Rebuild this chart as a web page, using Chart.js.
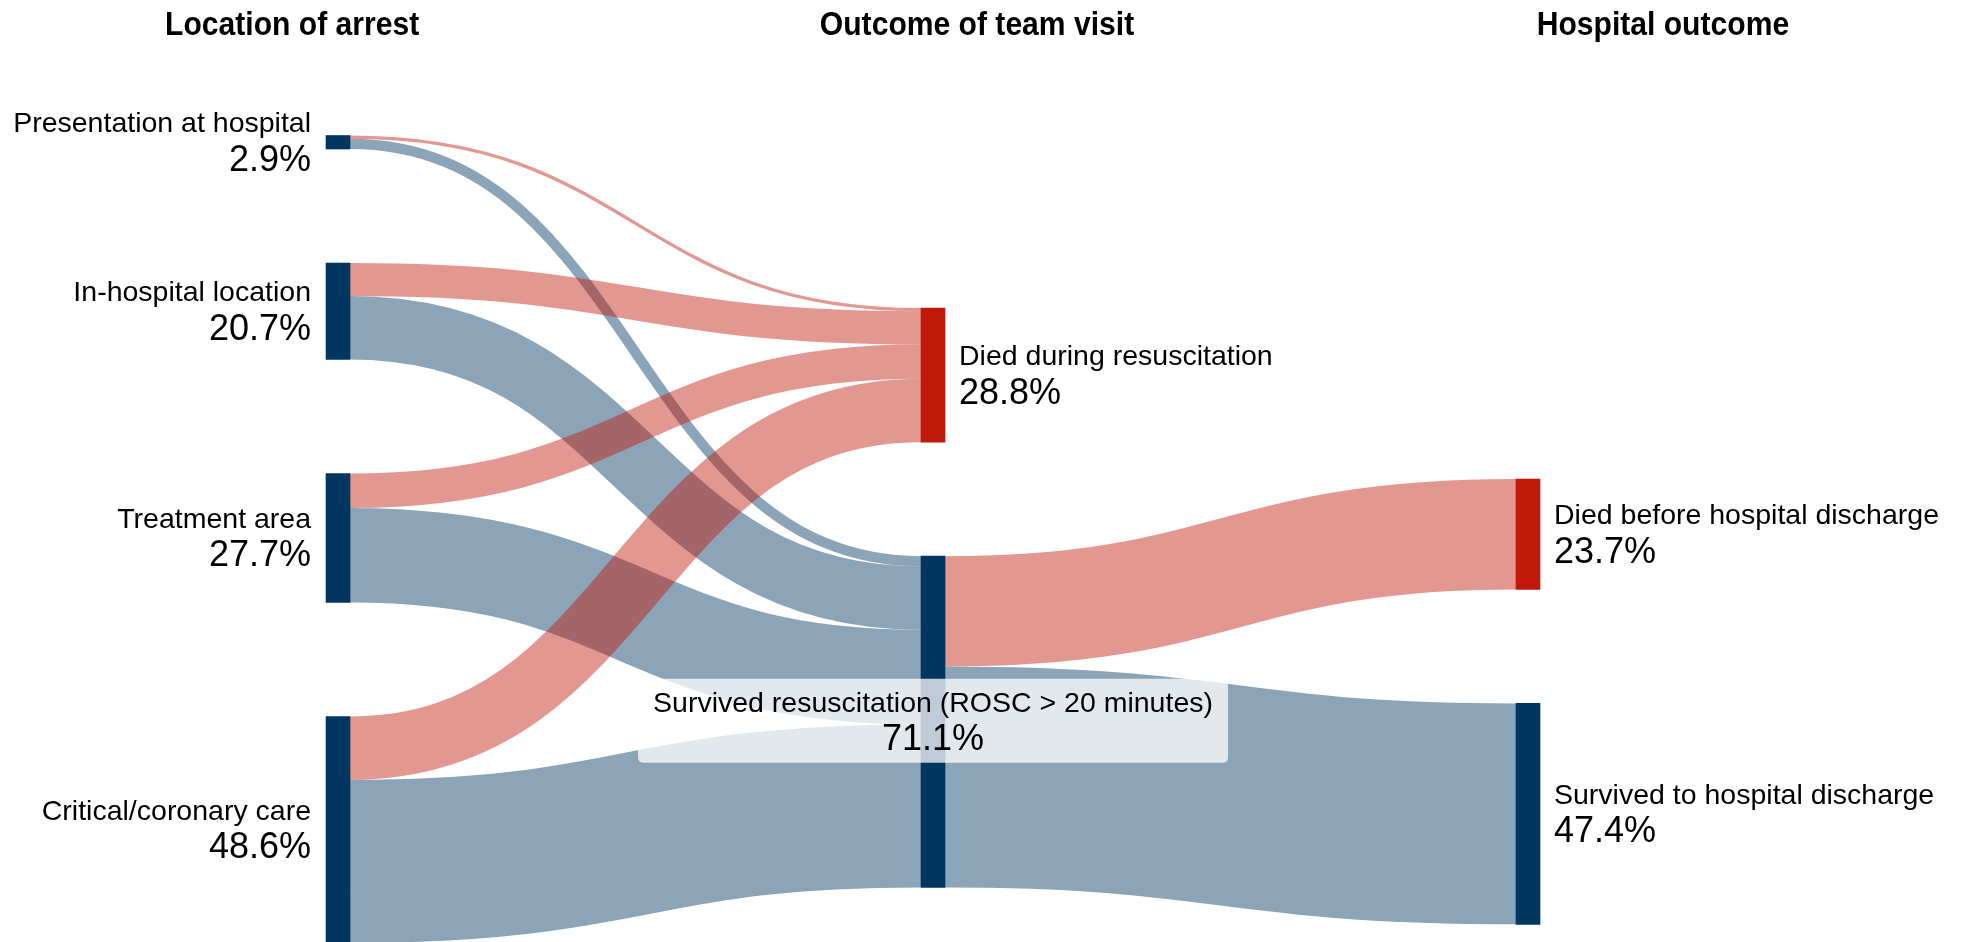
<!DOCTYPE html>
<html>
<head>
<meta charset="utf-8">
<title>Location of arrest and outcomes</title>
<script src="https://cdn.jsdelivr.net/npm/chart.js@4.4.1/dist/chart.umd.min.js"></script>
<style>
  html, body { margin: 0; padding: 0; background: #fff; }
  #wrap { width: 1967px; height: 942px; }
</style>
</head>
<body>
<div id="wrap"><canvas id="sankey" width="1967" height="942"></canvas></div>
<script>
// column headings
const columnTitles = ["Location of arrest", "Outcome of team visit", "Hospital outcome"];

// left column, share of all arrests (%)
const arrestLocations = ["Presentation at hospital", "In-hospital location", "Treatment area", "Critical/coronary care"];
const arrestShare = [2.9, 20.7, 27.7, 48.6];

// middle column
const visitOutcomes = ["Died during resuscitation", "Survived resuscitation (ROSC > 20 minutes)"];
const visitShare = [28.8, 71.1];

// right column
const hospitalOutcomes = ["Died before hospital discharge", "Survived to hospital discharge"];
const hospitalShare = [23.7, 47.4];

// flows from each location to the team visit outcome
const diedDuringFrom = [0.7, 7.1, 7.4, 13.6];
const survivedFrom = [2.2, 13.6, 20.3, 35.0];
// flows out of "survived resuscitation"
const afterSurvival = [23.7, 47.4];

// ---- layout / styling ----
const NAVY = "#00365f";
const RED = "#c0190c";
const PX_PER_PCT = 4.66;
const Y_MAX = 942 / PX_PER_PCT;
const NODE_GAP = 24.46;
const colStart = [29.08, 66.09, 102.79];
const FONT = '"Liberation Sans", Arial, sans-serif';

function rgba(hex, a) {
  const n = parseInt(hex.slice(1), 16);
  return `rgba(${n >> 16},${(n >> 8) & 255},${n & 255},${a})`;
}

function buildColumn(col, names, values, colors, sides) {
  let y = colStart[col];
  return names.map((name, i) => {
    const node = { col, name, value: values[i], y0: y, y1: y + values[i],
      color: colors[i], side: sides[i], outY: y, inY: y };
    y += values[i] + NODE_GAP;
    return node;
  });
}

const leftNodes = buildColumn(0, arrestLocations, arrestShare,
  [NAVY, NAVY, NAVY, NAVY], ["left", "left", "left", "left"]);
const midNodes = buildColumn(1, visitOutcomes, visitShare, [RED, NAVY], ["right", "center"]);
const rightNodes = buildColumn(2, hospitalOutcomes, hospitalShare, [RED, NAVY], ["right", "right"]);
const nodes = [...leftNodes, ...midNodes, ...rightNodes];

const links = [];
function addLink(source, target, value) {
  links.push({ source, target, value, color: target.color,
    sy: source.outY + value / 2, ty: target.inY + value / 2 });
  source.outY += value;
  target.inY += value;
}
leftNodes.forEach((n, i) => {
  addLink(n, midNodes[0], diedDuringFrom[i]);
  addLink(n, midNodes[1], survivedFrom[i]);
});
rightNodes.forEach((n, i) => addLink(midNodes[1], n, afterSurvival[i]));

// links go under the nodes, drawn as thick curves; blue first, red on top
const linkPlugin = {
  id: "sankeyLinks",
  beforeDatasetsDraw(chart) {
    const { ctx } = chart;
    const yS = chart.scales.y;
    const bars = chart.getDatasetMeta(0).data;
    const ordered = [...links.filter(l => l.color === NAVY), ...links.filter(l => l.color === RED)];
    ctx.save();
    ctx.lineCap = "butt";
    ordered.forEach(l => {
      const sb = bars[nodes.indexOf(l.source)];
      const tb = bars[nodes.indexOf(l.target)];
      const x0 = sb.x + sb.width / 2;
      const x1 = tb.x - tb.width / 2;
      const xm = (x0 + x1) / 2;
      const y0 = yS.getPixelForValue(l.sy);
      const y1 = yS.getPixelForValue(l.ty);
      const w = Math.abs(yS.getPixelForValue(l.value) - yS.getPixelForValue(0));
      ctx.beginPath();
      ctx.moveTo(x0, y0);
      ctx.bezierCurveTo(xm, y0, xm, y1, x1, y1);
      ctx.strokeStyle = rgba(l.color, 0.45);
      ctx.lineWidth = Math.max(1, w);
      ctx.stroke();
    });
    ctx.restore();
  }
};

function roundRect(ctx, x, y, w, h, r) {
  ctx.beginPath();
  ctx.moveTo(x + r, y);
  ctx.arcTo(x + w, y, x + w, y + h, r);
  ctx.arcTo(x + w, y + h, x, y + h, r);
  ctx.arcTo(x, y + h, x, y, r);
  ctx.arcTo(x, y, x + w, y, r);
  ctx.closePath();
}

const labelPlugin = {
  id: "sankeyLabels",
  afterDatasetsDraw(chart) {
    const { ctx, chartArea } = chart;
    const yS = chart.scales.y;
    const bars = chart.getDatasetMeta(0).data;
    ctx.save();
    ctx.fillStyle = "#000";
    ctx.textBaseline = "alphabetic";
    nodes.forEach((n, i) => {
      const b = bars[i];
      const cy = yS.getPixelForValue((n.y0 + n.y1) / 2);
      const pct = n.value.toFixed(1) + "%";
      let tx;
      if (n.side === "left") {
        ctx.textAlign = "right";
        tx = b.x - b.width / 2 - 15;
      } else if (n.side === "right") {
        ctx.textAlign = "left";
        tx = b.x + b.width / 2 + 14;
      } else {
        ctx.textAlign = "center";
        tx = b.x;
        ctx.font = "28.5px " + FONT;
        const w = ctx.measureText(n.name).width + 30;
        ctx.fillStyle = "rgba(255,255,255,0.75)";
        roundRect(ctx, tx - w / 2, cy - 43, w, 84, 5);
        ctx.fill();
        ctx.fillStyle = "#000";
      }
      ctx.font = "28.5px " + FONT;
      ctx.fillText(n.name, tx, cy - 10);
      ctx.font = "36px " + FONT;
      ctx.fillText(pct, tx, cy + 28.5);
    });

    // column headings
    const titleX = [0.1485, 0.4967, 0.8454];
    ctx.font = "bold 34px " + FONT;
    ctx.textAlign = "center";
    columnTitles.forEach((t, i) => {
      ctx.save();
      ctx.translate(chartArea.left + titleX[i] * (chartArea.right - chartArea.left), 35);
      ctx.scale(0.885, 1);
      ctx.fillText(t, 0, 0);
      ctx.restore();
    });
    ctx.restore();
  }
};

new Chart(document.getElementById("sankey"), {
  type: "bar",
  data: {
    datasets: [{
      data: nodes.map(n => ({ x: n.col, y: [n.y0, n.y1] })),
      backgroundColor: nodes.map(n => n.color),
      barThickness: 24,
      grouped: false,
      borderWidth: 0,
      borderSkipped: false
    }]
  },
  options: {
    responsive: false,
    animation: false,
    devicePixelRatio: 1,
    layout: { padding: 0 },
    plugins: {
      legend: { display: false },
      tooltip: { enabled: false }
    },
    scales: {
      x: { type: "linear", min: -0.5681, max: 2.7378, offset: false, display: false },
      y: { type: "linear", min: 0, max: Y_MAX, reverse: true, display: false }
    }
  },
  plugins: [linkPlugin, labelPlugin]
});
</script>
</body>
</html>
